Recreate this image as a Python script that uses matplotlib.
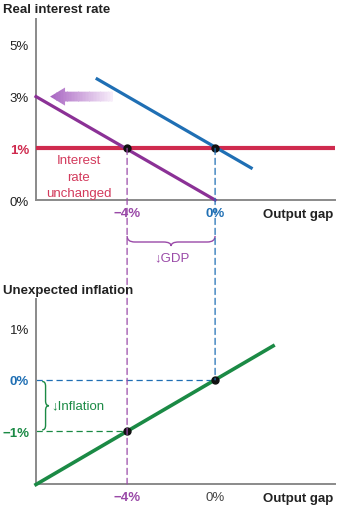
import numpy as np
import matplotlib.pyplot as plt
import matplotlib.transforms as mtransforms
from matplotlib.patches import ConnectionPatch, Polygon, PathPatch
from matplotlib.path import Path

plt.rcParams['font.family'] = ['Liberation Sans', 'DejaVu Sans']

# --- data ---
gap_lim = [-8.14, 5.45]
gap_ticks = [-4, 0]
gap_labels = ['\u22124%', '0%']

rate_ticks = [0, 1, 3, 5]
rate_labels = ['0%', '1%', '3%', '5%']
rate_lim = [0, 6]

ad_old_x = [-5.36, 1.64]      # old curve (blue)
ad_old_y = [3.68, 0.62]
ad_new_x = [-8.14, 0]         # shifted curve (purple)
ad_new_y = [3.0, 0.0]
mp_rate = 1                   # interest rate unchanged
eq_x = [-4, 0]                # equilibrium output gaps

infl_ticks = [1, 0, -1]
infl_labels = ['1%', '0%', '\u22121%']
infl_lim = [-2.02, 1.57]
pc_x = [-8.14, 2.64]          # Phillips curve (green)
pc_y = [-2.03, 0.66]
infl_eq = [-1, 0]

# colours
blue = '#1f6fb4'
purple = '#8b3196'
purple_txt = '#9a4aa8'
red = '#cf2a4e'
green = '#1b8a45'
axis_gray = '#8a8a8a'
txt = '#222222'


# uneven schematic spacing on the interest-rate axis: 0,1,3,5 equally spaced
def fwd(y):
    return np.interp(y, [-10, 0, 1, 3, 5, 20], [-10, 0, 1, 2, 3, 10.5])


def inv(p):
    return np.interp(p, [-10, 0, 1, 2, 3, 10.5], [-10, 0, 1, 3, 5, 20])


fig = plt.figure(figsize=(3.39, 5.10), dpi=100)
ax1 = fig.add_axes([36 / 339, 309 / 510, 299 / 339, 181 / 510])
ax2 = fig.add_axes([36 / 339, 25 / 510, 299 / 339, 185 / 510])

for ax in (ax1, ax2):
    for s in ('top', 'right'):
        ax.spines[s].set_visible(False)
    for s in ('left', 'bottom'):
        ax.spines[s].set_color(axis_gray)
        ax.spines[s].set_linewidth(1.4)
    ax.set_xlim(gap_lim)
    ax.tick_params(length=0, labelsize=9.5, pad=5)
    ax.set_xticks(gap_ticks)
    ax.set_xticklabels(gap_labels)
    ax.patch.set_alpha(0)

# ---------------- top panel ----------------
ax1.set_yscale('function', functions=(fwd, inv))
ax1.set_ylim(rate_lim)
ax1.set_yticks(rate_ticks)
ax1.set_yticklabels(rate_labels)
for lab, t in zip(ax1.get_yticklabels(), rate_ticks):
    if t == mp_rate:
        lab.set_color(red)
        lab.set_fontweight('bold')
    else:
        lab.set_color(txt)
xl = ax1.get_xticklabels()
xl[0].set_color(purple_txt); xl[0].set_fontweight('bold')
xl[1].set_color(blue); xl[1].set_fontweight('bold')

ax1.axhline(mp_rate, color=red, lw=3, zorder=3)
ax1.plot(ad_old_x, ad_old_y, color=blue, lw=2.3, zorder=4)
ax1.plot(ad_new_x, ad_new_y, color=purple, lw=2.3, zorder=4, clip_on=False)
ax1.plot(eq_x, [mp_rate, mp_rate], 'o', color='#111111', ms=5, zorder=6)

# gradient arrow
ay = 3.0
arrow_pts = [(-7.5, ay), (-6.82, ay + 0.35), (-6.82, ay + 0.19), (-4.64, ay + 0.19),
             (-4.64, ay - 0.19), (-6.82, ay - 0.19), (-6.82, ay - 0.35)]
arrow = Polygon(arrow_pts, closed=True, facecolor='none', edgecolor='none')
ax1.add_patch(arrow)
c0 = np.array([0.66, 0.40, 0.76])
c1 = np.array([0.97, 0.93, 0.98])
n = 40
edges = np.linspace(-7.5, -4.64, n + 1)
for i in range(n):
    f = i / (n - 1)
    sp = ax1.axvspan(edges[i], edges[i + 1] + 0.01, color=c0 + (c1 - c0) * f, lw=0, zorder=2)
    sp.set_clip_path(arrow)

ax1.text(-6.2, 0.88, 'Interest\nrate\nunchanged', color='#d33a5c', fontsize=9.5,
         ha='center', va='top', linespacing=1.45)

fig.text(3 / 339, 500 / 510, 'Real interest rate', fontsize=9.5, fontweight='bold',
         color=txt, ha='left', va='center')
ax1.annotate('Output gap', xy=(1.0, 0), xycoords='axes fraction',
             xytext=(-1, -6), textcoords='offset points', ha='right', va='top',
             fontsize=9.5, fontweight='bold', color=txt)

# GDP brace between the panels
tr = mtransforms.blended_transform_factory(ax1.transData, fig.transFigure)
x0, x1 = eq_x
xm = (x0 + x1) / 2
yt, ym, yb = 273 / 510, 267 / 510, 263 / 510
d = 0.35
verts = [(x0, yt), (x0, ym), (x0 + d, ym), (xm - d, ym), (xm, ym), (xm, yb),
         (xm, ym), (xm + d, ym), (x1 - d, ym), (x1, ym), (x1, yt)]
codes = [Path.MOVETO, Path.CURVE3, Path.CURVE3, Path.LINETO, Path.CURVE3, Path.CURVE3,
         Path.CURVE3, Path.CURVE3, Path.LINETO, Path.CURVE3, Path.CURVE3]
fig.add_artist(PathPatch(Path(verts, codes), transform=tr, fill=False,
                         edgecolor=purple_txt, lw=1))
fig.text(172 / 339, 252 / 510, '\u2193GDP', color=purple_txt, fontsize=9.5,
         ha='center', va='center')

# ---------------- bottom panel ----------------
ax2.set_ylim(infl_lim)
ax2.set_yticks(infl_ticks)
ax2.set_yticklabels(infl_labels)
yl = ax2.get_yticklabels()
yl[0].set_color(txt)
yl[1].set_color(blue); yl[1].set_fontweight('bold')
yl[2].set_color(green); yl[2].set_fontweight('bold')
xl = ax2.get_xticklabels()
xl[0].set_color(purple_txt); xl[0].set_fontweight('bold')
xl[1].set_color('#444444')

ax2.plot(pc_x, pc_y, color=green, lw=2.6, zorder=4, clip_on=False)
ax2.plot(eq_x, infl_eq, 'o', color='#111111', ms=5, zorder=6)
ax2.plot([gap_lim[0], eq_x[1]], [infl_eq[1], infl_eq[1]], color=blue, lw=0.9,
         dashes=(5, 3))
ax2.plot([gap_lim[0], eq_x[0]], [infl_eq[0], infl_eq[0]], color=green, lw=0.9,
         dashes=(5, 3))

# inflation brace
bx0, bx1 = -7.86, -7.55
bt, bb = infl_eq[1] - 0.03, infl_eq[0] + 0.03
bm = (bt + bb) / 2
bd = 0.09
bx = (bx0 + bx1) / 2
verts = [(bx0, bt), (bx, bt), (bx, bt - bd), (bx, bm + bd), (bx, bm), (bx1, bm),
         (bx, bm), (bx, bm - bd), (bx, bb + bd), (bx, bb), (bx0, bb)]
ax2.add_patch(PathPatch(Path(verts, codes), fill=False, edgecolor=green, lw=1))
ax2.text(-7.45, -0.5, '\u2193Inflation', color=green, fontsize=9.5, ha='left', va='center')

fig.text(3 / 339, 219 / 510, 'Unexpected inflation', fontsize=9.5, fontweight='bold',
         color=txt, ha='left', va='center')
ax2.annotate('Output gap', xy=(1.0, 0), xycoords='axes fraction',
             xytext=(-1, -6), textcoords='offset points', ha='right', va='top',
             fontsize=9.5, fontweight='bold', color=txt)

# dashed drop lines joining the panels
cp1 = ConnectionPatch(xyA=(eq_x[0], mp_rate), coordsA=ax1.transData,
                      xyB=(eq_x[0], infl_lim[0]), coordsB=ax2.transData,
                      color=purple_txt, lw=0.9, linestyle=(0, (5, 3)), zorder=1)
cp2 = ConnectionPatch(xyA=(eq_x[1], mp_rate), coordsA=ax1.transData,
                      xyB=(eq_x[1], infl_eq[1]), coordsB=ax2.transData,
                      color=blue, lw=0.9, linestyle=(0, (5, 3)), zorder=1)
fig.add_artist(cp1)
fig.add_artist(cp2)

fig.savefig('out.png', dpi=100)
